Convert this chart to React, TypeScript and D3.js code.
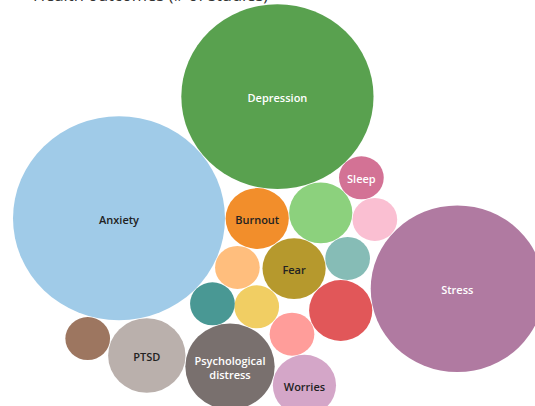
import React from "react";
import * as d3 from "d3";

// ---- data ----
const categories = [
  "Anxiety", "Depression", "Burnout", "Loneliness", "Sleep", "Insomnia",
  "Fear", "Anger", "Suicidal ideation", "Stress", "Frustration", "Irritability",
  "Somatization", "Grief", "Psychological distress", "Worries", "PTSD", "Substance use",
];
const studies = [45, 37, 4, 4, 2, 2, 4, 2, 4, 30, 2, 2, 2, 2, 8, 4, 6, 2];
const labelled = ["Anxiety", "Depression", "Burnout", "Sleep", "Fear", "Stress", "Psychological distress", "Worries", "PTSD"];
const titleText = "Health outcomes (# of studies)";

// ---- styles ----
const colors = [
  "#A0CBE8", "#59A14F", "#F28E2B", "#8CD17D", "#D37295", "#FABFD2",
  "#B6992D", "#86BCB6", "#E15759", "#B07AA1", "#FFBE7D", "#F1CE63",
  "#499894", "#FF9D9A", "#79706E", "#D4A6C8", "#BAB0AC", "#9D7660",
];
const lightText = ["Depression", "Stress", "Sleep", "Psychological distress"];
const wrapLabels: Record<string, string[]> = { "Psychological distress": ["Psychological", "distress"] };

// ---- packing layout: each bubble touches two earlier bubbles ----
const placement: { name: string; a: string; b: string; side: number }[] = [
  { name: "Burnout", a: "Anxiety", b: "Depression", side: 1 },
  { name: "Loneliness", a: "Depression", b: "Burnout", side: -1 },
  { name: "Sleep", a: "Depression", b: "Loneliness", side: -1 },
  { name: "Insomnia", a: "Sleep", b: "Loneliness", side: -1 },
  { name: "Fear", a: "Burnout", b: "Loneliness", side: 1 },
  { name: "Anger", a: "Loneliness", b: "Fear", side: -1 },
  { name: "Suicidal ideation", a: "Fear", b: "Anger", side: 1 },
  { name: "Stress", a: "Insomnia", b: "Suicidal ideation", side: -1 },
  { name: "Frustration", a: "Anxiety", b: "Burnout", side: 1 },
  { name: "Irritability", a: "Frustration", b: "Fear", side: 1 },
  { name: "Somatization", a: "Anxiety", b: "Frustration", side: 1 },
  { name: "Grief", a: "Irritability", b: "Suicidal ideation", side: 1 },
  { name: "Psychological distress", a: "Somatization", b: "Irritability", side: 1 },
  { name: "Worries", a: "Psychological distress", b: "Grief", side: 1 },
  { name: "PTSD", a: "Anxiety", b: "Psychological distress", side: 1 },
  { name: "Substance use", a: "Anxiety", b: "PTSD", side: 1 },
];

const W = 535;
const H = 406;
const GAP = 0.6;
const Y_SQUASH = 0.962;

export default function App() {
  const rScale = d3.scaleSqrt().domain([0, d3.max(studies) as number]).range([0, 106]);
  const yScale = d3.scaleLinear().domain([0, H / Y_SQUASH]).range([0, H]);

  const nodes = new Map<string, { x: number; y: number; r: number; i: number }>();
  categories.forEach((c, i) => nodes.set(c, { x: 0, y: 0, r: rScale(studies[i]), i }));

  // anchor the two largest bubbles
  const A = nodes.get("Anxiety")!;
  A.x = 13 + A.r;
  A.y = 226.9;
  const D = nodes.get("Depression")!;
  const ang = (-38.6 * Math.PI) / 180;
  const dAD = A.r + D.r + GAP;
  D.x = A.x + dAD * Math.cos(ang);
  D.y = A.y + dAD * Math.sin(ang);

  placement.forEach((p) => {
    const a = nodes.get(p.a)!;
    const b = nodes.get(p.b)!;
    const n = nodes.get(p.name)!;
    const dx = b.x - a.x;
    const dy = b.y - a.y;
    const d = Math.hypot(dx, dy);
    const ra = a.r + n.r + GAP;
    const rb = b.r + n.r + GAP;
    const x = (d * d + ra * ra - rb * rb) / (2 * d);
    const h = Math.sqrt(Math.max(0, ra * ra - x * x));
    const ux = dx / d;
    const uy = dy / d;
    n.x = a.x + x * ux + p.side * h * -uy;
    n.y = a.y + x * uy + p.side * h * ux;
  });

  const list = categories.map((c) => ({ name: c, ...nodes.get(c)! }));

  return (
    <svg
      width={W}
      height={H}
      style={{ position: "absolute", left: 0, top: 0, background: "#fff" }}
      fontFamily="'Open Sans', sans-serif"
    >
      <text x={33} y={0.5} fontSize={16.5} fill="#333">{titleText}</text>
      {list.map((n) => (
        <ellipse
          key={n.name}
          cx={n.x}
          cy={yScale(n.y)}
          rx={n.r}
          ry={n.r * Y_SQUASH}
          fill={colors[n.i]}
        />
      ))}
      {list
        .filter((n) => labelled.includes(n.name))
        .map((n) => {
          const lines = wrapLabels[n.name] || [n.name];
          const cy = yScale(n.y) + 1;
          const lh = 14.5;
          return (
            <text
              key={"t" + n.name}
              textAnchor="middle"
              fontSize={11}
              fontWeight={600}
              fill={lightText.includes(n.name) ? "#ffffff" : "#222222"}
            >
              {lines.map((l, k) => (
                <tspan key={k} x={n.x} y={cy + (k - (lines.length - 1) / 2) * lh} dominantBaseline="central">
                  {l}
                </tspan>
              ))}
            </text>
          );
        })}
    </svg>
  );
}
